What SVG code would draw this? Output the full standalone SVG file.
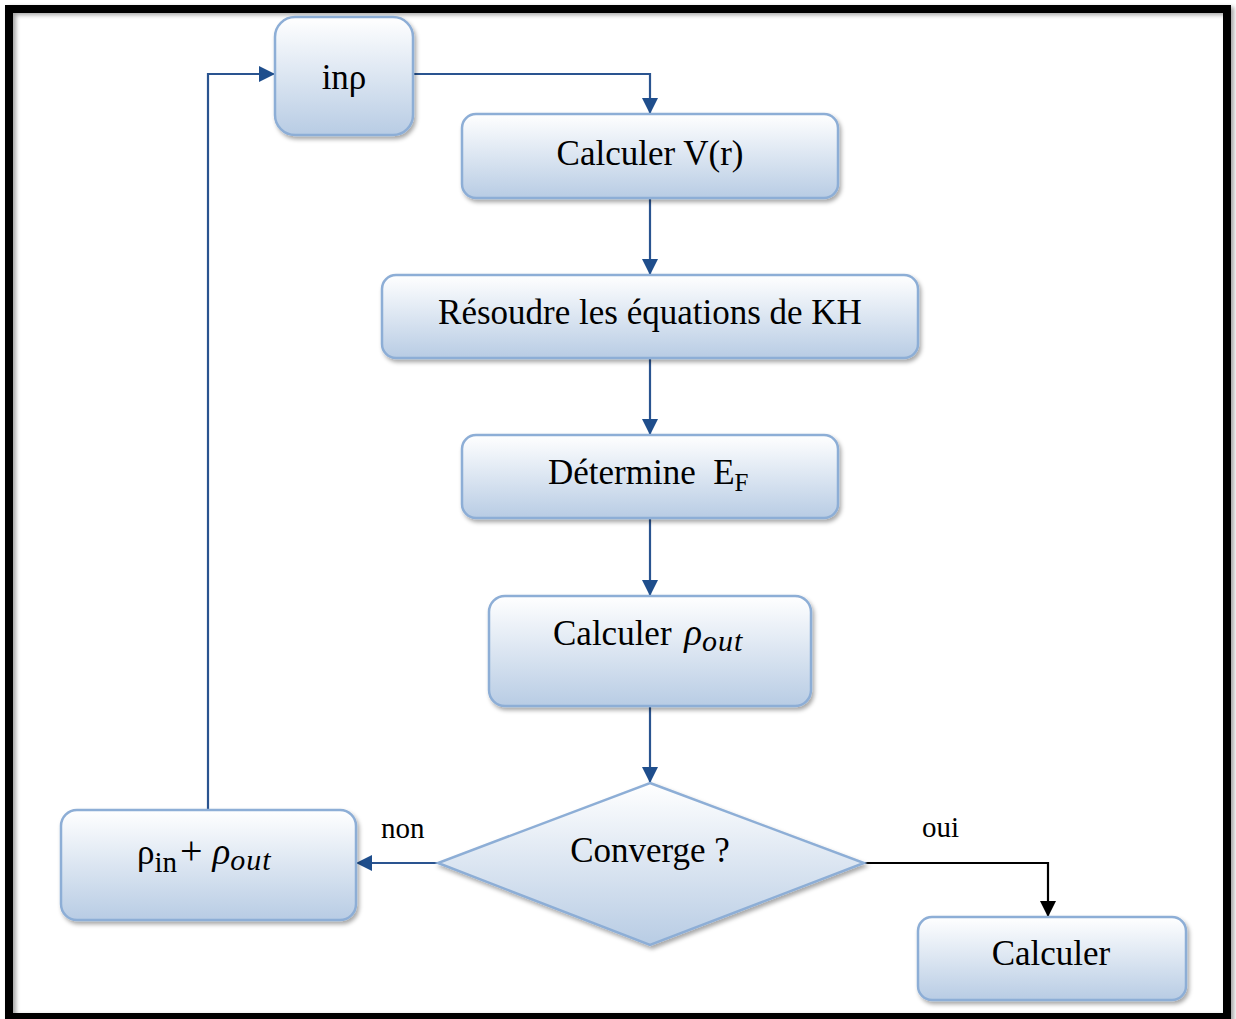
<svg xmlns="http://www.w3.org/2000/svg" width="1236" height="1019" viewBox="0 0 1236 1019">
<style>
.box{fill:url(#g);stroke:#8daed6;stroke-width:2.5;filter:url(#sh)}
.t{font-family:"Liberation Serif","Times New Roman",serif;font-size:35px;fill:#000}
.lbl{font-family:"Liberation Serif","Times New Roman",serif;font-size:29px;fill:#000}
.c{fill:none;stroke:#2a5490;stroke-width:2.2}
.k{fill:none;stroke:#000;stroke-width:2.2}
</style>
<defs>
<linearGradient id="g" x1="0" y1="0" x2="0" y2="1">
<stop offset="0" stop-color="#ffffff"/>
<stop offset="1" stop-color="#b8cce4"/>
</linearGradient>
<filter id="sh" x="-10%" y="-10%" width="125%" height="130%">
<feDropShadow dx="2" dy="3" stdDeviation="2" flood-color="#000" flood-opacity="0.35"/>
</filter>
<filter id="fsh" x="-2%" y="-2%" width="104%" height="104%">
<feDropShadow dx="3" dy="2" stdDeviation="2" flood-color="#000" flood-opacity="0.35"/>
</filter>
<marker id="a" markerWidth="16" markerHeight="16" refX="15" refY="8" orient="auto" markerUnits="userSpaceOnUse">
<path d="M0,0 L16,8 L0,16 Z" fill="#1f4e8c"/>
</marker>
<marker id="ak" markerWidth="16" markerHeight="16" refX="15" refY="8" orient="auto" markerUnits="userSpaceOnUse">
<path d="M0,0 L16,8 L0,16 Z" fill="#000"/>
</marker>
</defs>
<rect x="0" y="0" width="1236" height="1019" fill="#fff"/>
<rect x="9" y="9" width="1218" height="1008" fill="none" stroke="#000" stroke-width="8" filter="url(#fsh)"/>

<g id="connectors">
<polyline class="c" points="413,74 650,74 650,113" marker-end="url(#a)"/>
<line class="c" x1="650" y1="198" x2="650" y2="274" marker-end="url(#a)"/>
<line class="c" x1="650" y1="358" x2="650" y2="434" marker-end="url(#a)"/>
<line class="c" x1="650" y1="518" x2="650" y2="595" marker-end="url(#a)"/>
<line class="c" x1="650" y1="706" x2="650" y2="782" marker-end="url(#a)"/>
<line class="c" x1="438" y1="863" x2="357" y2="863" marker-end="url(#a)"/>
<polyline class="k" points="864,863 1048,863 1048,916" marker-end="url(#ak)"/>
<polyline class="c" points="208,810 208,74 274,74" marker-end="url(#a)"/>
<text class="lbl" x="381" y="838">non</text>
<text class="lbl" x="922" y="837">oui</text>
</g>

<g id="n-inrho">
<rect class="box" x="275" y="17" width="138" height="118" rx="20"/>
<text class="t" x="344" y="89" text-anchor="middle" font-size="32">inρ</text>
</g>
<g id="n-vr">
<rect class="box" x="462" y="114" width="376" height="84" rx="14"/>
<text class="t" x="650" y="165" text-anchor="middle">Calculer V(r)</text>
</g>
<g id="n-kh">
<rect class="box" x="382" y="275" width="536" height="83" rx="14"/>
<text class="t" x="650" y="324" text-anchor="middle">Résoudre les équations de KH</text>
</g>
<g id="n-ef">
<rect class="box" x="462" y="435" width="376" height="83" rx="14"/>
<text class="t" x="548" y="484">Détermine&#160; E<tspan font-size="25" dy="7">F</tspan></text>
</g>
<g id="n-rhoout">
<rect class="box" x="489" y="596" width="322" height="110" rx="16"/>
<text class="t" x="553" y="645">Calculer <tspan font-style="italic" font-size="37" dx="4">ρ</tspan><tspan font-style="italic" font-size="30" dy="6" letter-spacing="1">out</tspan></text>
</g>
<g id="n-converge">
<polygon class="box" points="650,783 864,863 650,945 438,863"/>
<text class="t" x="650" y="862" text-anchor="middle">Converge ?</text>
</g>
<g id="n-sum">
<rect class="box" x="61" y="810" width="295" height="110" rx="16"/>
<text class="t" x="137" y="864">ρ<tspan font-size="29" dy="8">in</tspan><tspan dy="-8" dx="3" font-size="40">+</tspan><tspan font-style="italic" font-size="37" dx="10">ρ</tspan><tspan font-style="italic" font-size="30" dy="6" letter-spacing="1">out</tspan></text>
</g>
<g id="n-calc">
<rect class="box" x="918" y="917" width="268" height="83" rx="14"/>
<text class="t" x="1051" y="965" text-anchor="middle">Calculer</text>
</g>
</svg>
